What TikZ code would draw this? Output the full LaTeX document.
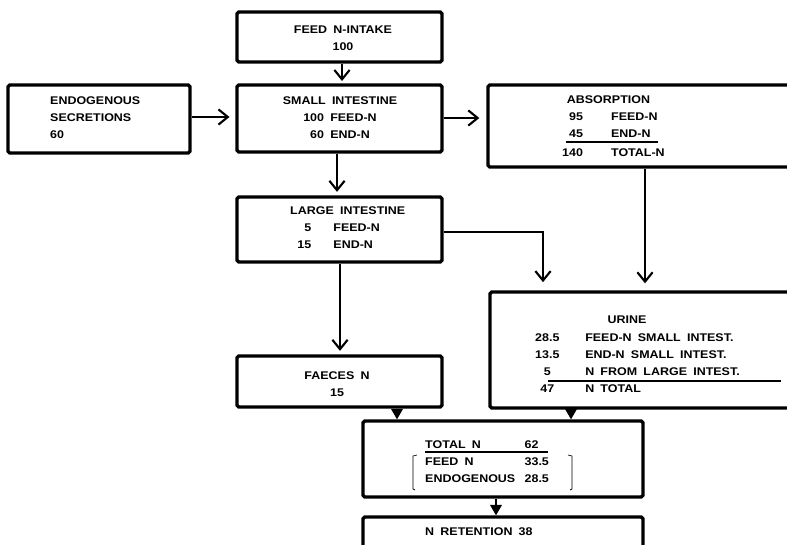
\documentclass[tikz,border=0pt]{standalone}
\usepackage{fontspec}
\setmainfont{Liberation Sans}[FakeStretch=1.12,WordSpace=1.8]
\usetikzlibrary{arrows.meta,fit}
\begin{document}
\begin{tikzpicture}[x=0.03cm,y=-0.03cm,
  box/.style={draw, line width=2.8pt, rounded corners=1.5pt, inner sep=0pt},
  txt/.style={inner sep=0pt, font=\fontsize{9.5}{14.5}\selectfont\bfseries},
  conn/.style={line width=1.5pt, -{Straight Barb[length=8pt,width=13pt,line width=1.8pt]}},
  tri/.style={line width=1.5pt, -{Triangle[length=9pt,width=10pt]}},
  uline/.style={line width=1pt}
]
\clip (0,0) rectangle (787,545);
% boxes
\node[box, fit={(237,12)(442,62)}] (feed) {};
\node[box, fit={(237,85)(442,152)}] (small) {};
\node[box, fit={(8,85)(190,153)}] (endo) {};
\node[box, fit={(488,85)(805,167)}] (absb) {};
\node[box, fit={(237,197)(442,262)}] (large) {};
\node[box, fit={(237,356)(442,407)}] (faeces) {};
\node[box, fit={(490,292)(805,408)}] (urine) {};
\node[box, fit={(363,421)(643,497)}] (total) {};
\node[box, fit={(363,517)(643,570)}] (ret) {};
% texts
\node[txt, align=center] (feedt) at (343,38.5) {FEED N-INTAKE\\100};
\node[txt, align=center] (smallt) at (340,118) {SMALL INTESTINE\\100 FEED-N\\60 END-N};
\node[txt, align=left, anchor=west] (endot) at (50,118) {ENDOGENOUS\\SECRETIONS\\60};
\node[txt, anchor=west] (abst) at (562,126.5) {\begin{tabular}{@{}r@{\hspace{24pt}}l@{}}
\multicolumn{2}{@{}l@{}}{\hspace{4pt}ABSORPTION}\\
95 & FEED-N\\
45 & END-N\\[2pt]
140 & TOTAL-N
\end{tabular}};
\draw[uline] (566,142) -- (658,142);
\node[txt, anchor=west] (larget) at (290,228) {\begin{tabular}{@{}r@{\hspace{19pt}}l@{}}
\multicolumn{2}{@{}l@{}}{LARGE INTESTINE}\\
\hspace{12pt}5 & FEED-N\\
15 & END-N
\end{tabular}};
\node[txt] (urinet) at (627,320) {URINE};
\node[txt, anchor=west] (urinel) at (535,364) {\begin{tabular}{@{}c@{\hspace{22pt}}l@{}}
28.5 & FEED-N SMALL INTEST.\\
13.5 & END-N SMALL INTEST.\\
5 & N FROM LARGE INTEST.\\
47 & N TOTAL
\end{tabular}};
\draw[uline] (548,381) -- (781,381);
\node[txt, align=center] (faecest) at (337,384) {FAECES N\\15};
\node[txt, anchor=west] (totalt) at (425,462) {\begin{tabular}{@{}l@{\hspace{8pt}}l@{}}
TOTAL N & 62\\
FEED N & 33.5\\
ENDOGENOUS & 28.5
\end{tabular}};
\draw[uline] (425,452) -- (548,452);
\draw[line width=0.6pt] (417,455) -- (413,456) -- (413,489) -- (415,490);
\draw[line width=0.6pt] (568,455) -- (572,456) -- (572,489) -- (570,490);
\node[txt, anchor=west] (rett) at (425,532) {N RETENTION 38};
% connectors
\draw[conn, shorten >=2pt] (feed.south -| 342,0) -- (small.north -| 342,0);
\draw[conn, shorten >=5pt] (endo.east |- 0,117) -- (small.west |- 0,117);
\draw[conn, shorten >=6pt] (small.east |- 0,118) -- (absb.west |- 0,118);
\draw[conn, shorten >=3pt] (small.south -| 337,0) -- (large.north -| 337,0);
\draw[conn, shorten >=7pt] (large.east |- 0,232) -| (urine.north -| 543,0);
\draw[conn, shorten >=6pt] (absb.south -| 645,0) -- (urine.north -| 645,0);
\draw[conn, shorten >=3pt] (large.south -| 340,0) -- (faeces.north -| 340,0);
\draw[tri] (faeces.south -| 397,0) -- (total.north -| 397,0);
\draw[tri] (urine.south -| 571,0) -- (total.north -| 571,0);
\draw[tri] (total.south -| 496,0) -- (ret.north -| 496,0);
\end{tikzpicture}
\end{document}
